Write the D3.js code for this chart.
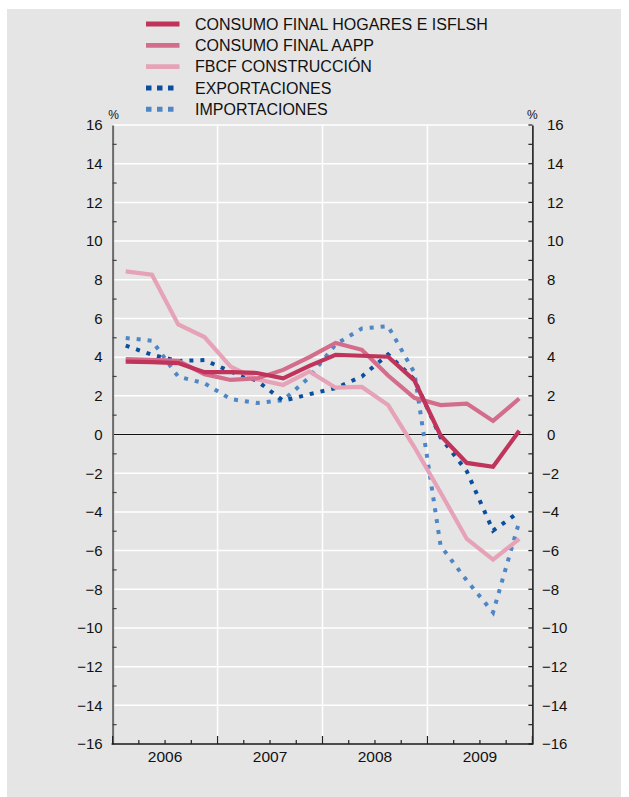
<!DOCTYPE html>
<html>
<head>
<meta charset="utf-8">
<script src="https://cdn.jsdelivr.net/npm/d3@7"></script>
<style>
  body { margin: 0; background: #fff; }
  svg { display: block; }
</style>
</head>
<body>
<svg id="chart"></svg>
<script>
// quarterly data, 2006 Q1 .. 2009 Q4
var years = ["2006", "2007", "2008", "2009"];
var hogares = [3.77, 3.74, 3.69, 3.22, 3.22, 3.18, 2.9, 3.55, 4.12, 4.07, 4.02, 2.8, -0.05, -1.47, -1.67, 0.19];
var aapp = [3.9, 3.86, 3.81, 3.12, 2.82, 2.9, 3.34, 4.0, 4.73, 4.38, 3.05, 1.9, 1.52, 1.6, 0.7, 1.86];
var fbcf = [8.43, 8.26, 5.69, 5.04, 3.51, 2.85, 2.56, 3.26, 2.42, 2.46, 1.52, -0.65, -3.0, -5.4, -6.47, -5.4];
var exportaciones = [4.6, 4.12, 3.8, 3.85, 3.25, 2.78, 1.74, 2.08, 2.4, 3.0, 4.14, 2.85, -0.15, -1.9, -4.97, -4.0];
var importaciones = [4.99, 4.85, 2.99, 2.65, 1.83, 1.63, 1.77, 2.96, 4.66, 5.48, 5.6, 3.2, -5.75, -7.55, -9.2, -4.5];
var yTicks = d3.range(-16, 17, 2);

var series = [
  { name: "CONSUMO FINAL HOGARES E ISFLSH", values: hogares, color: "#c0335a", dash: null },
  { name: "CONSUMO FINAL AAPP", values: aapp, color: "#d36d8b", dash: null },
  { name: "FBCF CONSTRUCCIÓN", values: fbcf, color: "#e6a2b6", dash: null },
  { name: "EXPORTACIONES", values: exportaciones, color: "#0a4f9f", dash: "4,7" },
  { name: "IMPORTACIONES", values: importaciones, color: "#4e86c6", dash: "4,7" }
];

var W = 629, H = 797;
var plotLeft = 112.6, plotRight = 532.4, plotTop = 125, plotBottom = 744;

var svg = d3.select("#chart")
  .attr("width", W)
  .attr("height", H)
  .style("font-family", "'Liberation Sans', Arial, sans-serif");

svg.append("rect")
  .attr("x", 7).attr("y", 9)
  .attr("width", 614).attr("height", H - 9)
  .attr("fill", "#e5e5e5");

var x = d3.scaleLinear().domain([0, 16]).range([plotLeft, plotRight]);
var y = d3.scaleLinear().domain([-16, 16]).range([plotBottom, plotTop]);

// horizontal grid
svg.append("g").selectAll("line")
  .data(yTicks)
  .enter().append("line")
  .attr("x1", plotLeft).attr("x2", plotRight - 4)
  .attr("y1", d => y(d)).attr("y2", d => y(d))
  .attr("stroke", "#fff")
  .attr("stroke-width", 1.5);

// vertical grid at year boundaries
svg.append("g").selectAll("line")
  .data([4, 8, 12])
  .enter().append("line")
  .attr("x1", d => x(d)).attr("x2", d => x(d))
  .attr("y1", plotTop).attr("y2", plotBottom)
  .attr("stroke", "#fff")
  .attr("stroke-width", 1.5);

// zero line
svg.append("line")
  .attr("x1", plotLeft).attr("x2", plotRight)
  .attr("y1", y(0)).attr("y2", y(0))
  .attr("stroke", "#111")
  .attr("stroke-width", 1.2);

// axes
var yLeft = d3.axisLeft(y).tickValues(yTicks).tickSize(0).tickPadding(10).tickFormat(d3.format("d"));
var gL = svg.append("g")
  .attr("transform", "translate(" + plotLeft + ",0)")
  .call(yLeft);
gL.select(".domain").attr("stroke", "#6b6b6b").attr("stroke-width", 2);

svg.append("g").selectAll("line")
  .data(d3.range(-15, 16, 2))
  .enter().append("line")
  .attr("x1", plotLeft).attr("x2", plotLeft + 4)
  .attr("y1", d => y(d)).attr("y2", d => y(d))
  .attr("stroke", "#444").attr("stroke-width", 1.2);

var yRight = d3.axisRight(y).tickValues(yTicks).tickSize(0).tickPadding(10).tickFormat(d3.format("d"));
var gR = svg.append("g")
  .attr("transform", "translate(" + plotRight + ",0)")
  .call(yRight);
gR.select(".domain").attr("stroke", "#111").attr("stroke-width", 1.5);
gR.selectAll(".tick text")
  .attr("x", d => d < 0 ? 9.5 : 14.5)
  .attr("text-anchor", "start");

svg.append("g").selectAll("line")
  .data(d3.range(-16, 17, 1))
  .enter().append("line")
  .attr("x1", plotRight - 4).attr("x2", plotRight)
  .attr("y1", d => y(d)).attr("y2", d => y(d))
  .attr("stroke", "#222").attr("stroke-width", 1.2);

svg.selectAll(".tick text")
  .style("font-size", "15px")
  .attr("fill", "#111");

// bottom axis
svg.append("line")
  .attr("x1", plotLeft - 1).attr("x2", plotRight + 0.7)
  .attr("y1", plotBottom).attr("y2", plotBottom)
  .attr("stroke", "#111").attr("stroke-width", 1.5);

svg.append("g").selectAll("line")
  .data(d3.range(0, 17))
  .enter().append("line")
  .attr("x1", d => x(d)).attr("x2", d => x(d))
  .attr("y1", plotBottom).attr("y2", d => d % 4 === 0 ? plotBottom - 8 : plotBottom - 4)
  .attr("stroke", "#222").attr("stroke-width", 1.2);

svg.append("g").selectAll("text")
  .data(years)
  .enter().append("text")
  .attr("x", (d, i) => x(i * 4 + 2))
  .attr("y", 762)
  .attr("text-anchor", "middle")
  .style("font-size", "15.5px")
  .attr("fill", "#111")
  .text(d => d);

// % labels
[plotLeft + 1, plotRight].forEach(function(px) {
  svg.append("text")
    .attr("x", px).attr("y", 119)
    .attr("text-anchor", "middle")
    .style("font-size", "12px")
    .attr("fill", "#111")
    .text("%");
});

// series lines
var line = d3.line()
  .x((d, i) => x(i + 0.5))
  .y(d => y(d));

svg.append("g").selectAll("path")
  .data(series.slice().reverse())
  .enter().append("path")
  .attr("d", d => line(d.values))
  .attr("fill", "none")
  .attr("stroke", d => d.color)
  .attr("stroke-width", d => d.dash ? 4 : 4.2)
  .attr("stroke-dasharray", d => d.dash)
  .attr("stroke-linejoin", "miter");

// legend
var legend = svg.append("g").selectAll("g")
  .data(series)
  .enter().append("g")
  .attr("transform", (d, i) => "translate(0," + (24 + i * 21.3) + ")");

legend.append("line")
  .attr("x1", 146).attr("x2", d => d.dash ? 174 : 179.5)
  .attr("y1", 0).attr("y2", 0)
  .attr("stroke", d => d.color)
  .attr("stroke-width", d => d.dash ? 5 : 4.8)
  .attr("stroke-dasharray", d => d.dash ? "5.5,5.5" : null);

legend.append("text")
  .attr("x", 195)
  .attr("y", 5.8)
  .style("font-size", "16px")
  .attr("fill", "#111")
  .text(d => d.name);
</script>
</body>
</html>
